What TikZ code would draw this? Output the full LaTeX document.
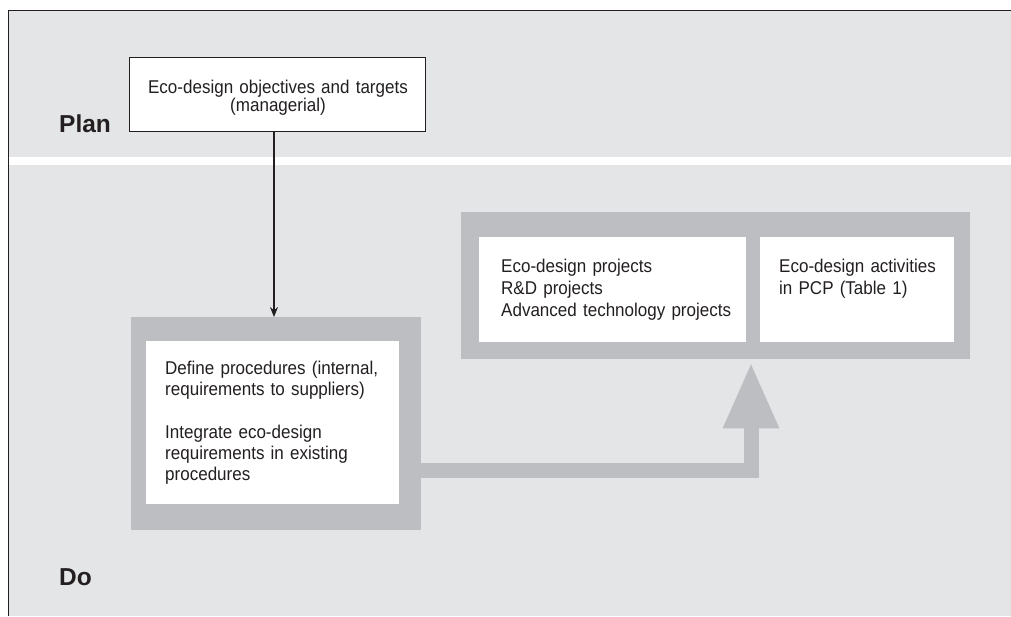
\documentclass[tikz,border=0pt]{standalone}
\usepackage{fontspec}
\setmainfont{Liberation Sans}
\newfontfamily\bodyfont{Liberation Sans}[FakeStretch=0.92]
\usetikzlibrary{arrows.meta}
\definecolor{bandgray}{HTML}{E4E5E7}
\definecolor{framegray}{HTML}{BDBEC1}
\definecolor{ink}{HTML}{231F20}
\begin{document}
\begin{tikzpicture}[x=1pt,y=-1pt,
  band/.style={fill=bandgray,draw=none},
  frame/.style={fill=framegray,draw=none,inner sep=0pt,anchor=north west},
  whitebox/.style={fill=white,draw=none,inner sep=0pt,anchor=north west},
  planbox/.style={fill=white,draw=ink,line width=1.1pt,inner sep=0pt,anchor=north west},
  txt/.style={font=\bodyfont\fontsize{18.5}{22}\selectfont,text=ink,inner sep=0pt,align=left,anchor=base west},
  phase/.style={font=\fontsize{24.5}{28}\selectfont\bfseries,text=ink,inner sep=0pt,anchor=base west},
  flow/.style={draw=framegray,line width=15pt,line join=miter,-{Triangle[width=52pt,length=66pt]}},
  link/.style={draw=ink,line width=1.2pt,-{Stealth[length=10pt,width=8pt]}}]
\useasboundingbox (0,0) rectangle (1011,616);
\fill[white] (0,0) rectangle (1011,616);
% bands
\fill[band] (8.7,10.7) rectangle (1011,157);
\fill[band] (8.7,165) rectangle (1011,616);
\draw[ink,line width=1.2pt] (8.7,616) -- (8.7,10.7) -- (1011,10.7);
% phase labels
\node[phase] (planlbl) at (59,132) {Plan};
\node[phase] (dolbl) at (59,585) {Do};
% plan box
\node[planbox,minimum width=296pt,minimum height=74pt] (plan) at (129,57) {};
\node[txt,text width=280pt,align=center,anchor=base,font=\bodyfont\fontsize{18.5}{17.7}\selectfont] (plantext) at (278,93.5)
  {Eco-design objectives and targets\\(managerial)};
% left frame
\node[frame,minimum width=290pt,minimum height=213pt] (lframe) at (131,317) {};
\node[whitebox,minimum width=253pt,minimum height=163pt] (lbox) at (146,341) {};
\node[txt,text width=230pt,font=\bodyfont\fontsize{18.5}{21}\selectfont] (ltext) at (165,374)
  {Define procedures (internal,\\requirements to suppliers)\\[22pt]Integrate eco-design\\requirements in existing\\procedures};
% right frame
\node[frame,minimum width=509pt,minimum height=147pt] (rframe) at (461,212) {};
\node[whitebox,minimum width=267pt,minimum height=105pt] (rbox1) at (479,237) {};
\node[whitebox,minimum width=194pt,minimum height=105pt] (rbox2) at (760,237) {};
\node[txt,text width=250pt] (r1text) at (501,272)
  {Eco-design projects\\R\&D projects\\Advanced technology projects};
\node[txt,text width=180pt] (r2text) at (779,272)
  {Eco-design activities\\in PCP (Table 1)};
% connectors
\coordinate (ax) at (274,0);
\draw[link] (plan.south -| ax) -- (lframe.north -| ax);
\coordinate (bend) at (751,470);
\draw[flow] (lframe.east |- bend) -- (bend) -- ([yshift=-3pt]rframe.south -| bend);
\end{tikzpicture}
\end{document}
